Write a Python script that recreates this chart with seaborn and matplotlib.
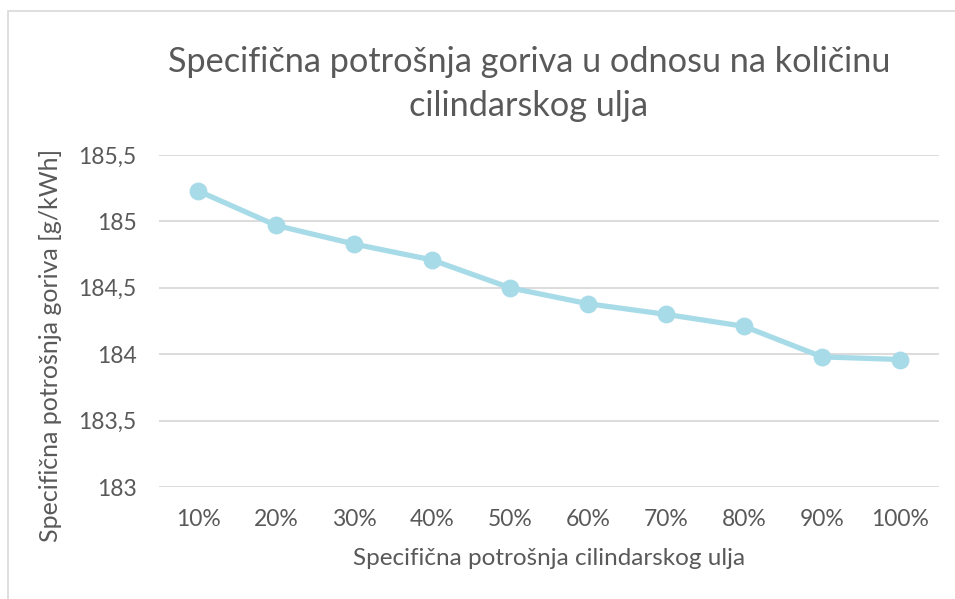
import matplotlib
matplotlib.use("Agg")
import matplotlib.pyplot as plt
import numpy as np
import pandas as pd
import seaborn as sns
from matplotlib.patches import Rectangle

# podaci
kategorije = ["10%", "20%", "30%", "40%", "50%", "60%", "70%", "80%", "90%", "100%"]
potrosnja = [185.23, 184.97, 184.83, 184.71, 184.50, 184.38, 184.30, 184.21, 183.98, 183.96]
y_ticks = [183, 183.5, 184, 184.5, 185, 185.5]
y_tick_labels = ["183", "183,5", "184", "184,5", "185", "185,5"]

naslov = "Specifična potrošnja goriva u odnosu na količinu\ncilindarskog ulja"
x_naziv = "Specifična potrošnja cilindarskog ulja"
y_naziv = "Specifična potrošnja goriva [g/kWh]"

df = pd.DataFrame({"kat": kategorije, "val": potrosnja})

sns.set_theme(style="white")
plt.rcParams["font.family"] = ["Lato", "DejaVu Sans"]

tekst = "#595959"
boja = "#A8DBE8"

fig = plt.figure(figsize=(9.55, 5.99), dpi=100)
ax = fig.add_axes([159 / 955, 1 - 487 / 599, 780 / 955, 332 / 599])

# okvir grafikona
fig.patches.append(Rectangle((8 / 955, -0.1), 1.2, 1 - 11 / 599 + 0.1,
                             transform=fig.transFigure, fill=False,
                             edgecolor="#D9D9D9", linewidth=1.2))

sns.pointplot(data=df, x="kat", y="val", color=boja, ax=ax,
              markersize=10, linewidth=3.8, errorbar=None)

ax.set_ylim(183, 185.5)
ax.set_yticks(y_ticks)
ax.set_yticklabels(y_tick_labels)
ax.yaxis.grid(True, color="#D9D9D9", linewidth=1.3)
ax.set_axisbelow(True)
for s in ax.spines.values():
    s.set_visible(False)
ax.tick_params(axis="both", length=0, labelsize=16.5, labelcolor=tekst)
ax.tick_params(axis="y", pad=16)
ax.tick_params(axis="x", pad=16)

ax.set_xlabel(x_naziv, fontsize=17.5, color=tekst, labelpad=13)
ax.set_ylabel(y_naziv, fontsize=18, color=tekst)
ax.yaxis.set_label_coords(-0.124, 0.425)

fig.text(529 / 955, 1 - 84 / 599, naslov, ha="center", va="center",
         fontsize=24.7, color=tekst, linespacing=1.45)

fig.savefig("out.png", dpi=100)
